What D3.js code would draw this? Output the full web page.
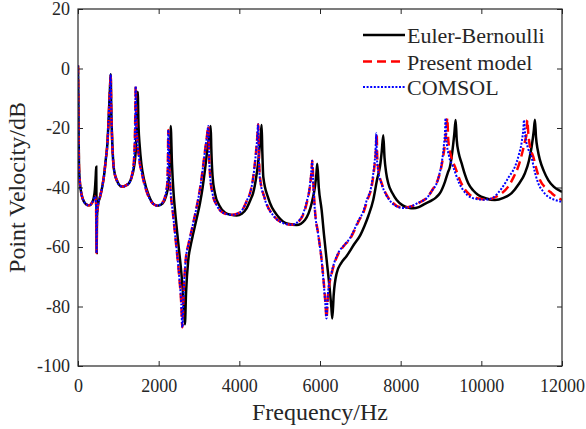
<!DOCTYPE html>
<html>
<head>
<meta charset="utf-8">
<script src="https://cdn.jsdelivr.net/npm/d3@7"></script>
<style>
html,body{margin:0;padding:0;background:#fff;overflow:hidden}
svg{display:block}
text{font-family:"Liberation Serif","Times New Roman",serif;fill:#262626}
</style>
</head>
<body>
<div id="chart"></div>
<script>
// tick values
const freqTicks=[0,2000,4000,6000,8000,10000,12000]
const dbTicks=[20,0,-20,-40,-60,-80,-100]
const seriesNames=["Euler-Bernoulli","Present model","COMSOL"]

// [frequency Hz, point velocity dB]
const eulerBernoulli=[
[0,1],[8,-8],[15,-22],[25,-33],[45,-38],[70,-41],[110,-43.5],[160,-45],[220,-45.8],[280,-46],[340,-45.3],[390,-43.5],[420,-40.5],[440,-36],[452,-33],[458,-45],[463,-62],[470,-50],[500,-45.5],[540,-43.5],[602,-39.7],[650,-35.5],[687,-30.8],[730,-25],[751,-19.6],[775,-12],[795,-6],[811,-1.9],
[825,-14],[850,-25],[892,-34],[975,-38],[1050,-39.5],[1124,-39.7],[1200,-39.2],[1264,-38.6],[1330,-36.5],[1390,-33],[1430,-28],[1455,-20],[1470,-13],[1480,-7.8],
[1500,-19],[1530,-26],[1570,-32],[1640,-37.5],[1750,-42.5],[1870,-45.5],[1980,-46.1],[2100,-45.3],[2180,-43],[2240,-39],[2270,-33],[2288,-26],[2298,-19.3],
[2330,-32],[2370,-42],[2405,-47.6],[2487,-58.8],[2571,-70],[2620,-79],[2650,-86],[2680,-75],[2734,-64.4],[2800,-59],[2858,-55.4],[2940,-50.5],[3024,-45.3],[3090,-40],[3148,-34.1],[3200,-28],[3250,-23],[3290,-19.3],
[3305,-27],[3335,-36],[3396,-42],[3500,-46],[3650,-48.5],[3800,-49.2],[3934,-49.4],[4060,-48.8],[4180,-47],[4280,-44],[4340,-42],[4420,-36.4],[4480,-30],[4520,-24],[4553,-19],
[4570,-28],[4594,-36.4],[4718,-43.6],[4966,-49.8],[5200,-52.2],[5421,-52.6],[5627,-50.9],[5793,-45.3],[5875,-39.7],[5910,-35.5],[5932,-32],
[5970,-40],[6041,-47.6],[6100,-56],[6165,-64.4],[6240,-74],[6280,-80],[6305,-84],[6340,-76],[6413,-68.8],[6520,-65.5],[6661,-63],[6850,-59],[7000,-56],[7100,-53],[7200,-49.5],[7320,-44.2],[7420,-37],[7487,-33],[7530,-28],[7569,-22.4],
[7600,-30],[7640,-35],[7692,-38.6],[7800,-42],[7901,-44.2],[8050,-46],[8200,-46.8],[8313,-47],[8450,-46.6],[8600,-45.5],[8750,-44.5],[8880,-43.3],[8974,-41.9],[9100,-38],[9170,-35],[9222,-33],[9280,-28],[9330,-22],[9363,-17.3],
[9390,-24],[9440,-28.5],[9512,-31.9],[9590,-35.5],[9675,-38.6],[9800,-41],[9923,-42.5],[10100,-43.6],[10337,-44.2],[10550,-43.5],[10751,-41.9],[10920,-39],[11081,-35.2],[11180,-31],[11247,-26.3],[11300,-21],[11329,-17.2],
[11355,-23],[11400,-27.5],[11454,-30.8],[11550,-34.5],[11659,-37.5],[11800,-39.8],[12000,-41.5]
]

const presentModel=[
[0,1],[8,-8],[15,-22],[25,-33],[45,-38],[70,-41],[110,-43.5],[160,-45],[220,-45.8],[280,-46],[340,-45.3],[390,-44],[425,-43],[445,-45],[456,-55],[462,-62],[470,-50],[500,-45.5],[540,-43.5],[602,-39.7],[650,-35.5],[687,-30.8],[730,-25],[751,-19.6],[775,-12],[795,-6],[810,-1.9],
[825,-14],[850,-25],[892,-34],[975,-38],[1050,-39.5],[1124,-39.7],[1200,-39.2],[1264,-38.6],[1347,-35.2],[1388,-30.8],[1408,-24],[1420,-16],[1430,-6],
[1445,-17],[1475,-25],[1512,-30],[1595,-36],[1719,-42],[1850,-45.3],[1966,-46.1],[2060,-45.5],[2132,-44.2],[2190,-41],[2214,-38.6],[2228,-32],[2239,-20.7],
[2265,-33],[2300,-42],[2345,-47.6],[2430,-58.8],[2510,-70],[2560,-79],[2587,-87],[2620,-75],[2670,-64.4],[2740,-59],[2800,-55.4],[2880,-50.5],[2960,-45.3],[3030,-40],[3090,-34.1],[3145,-28],[3195,-23],[3232,-19.3],
[3245,-27],[3275,-36],[3335,-42],[3440,-46],[3600,-48.5],[3810,-49.2],[3950,-48.8],[4098,-47],[4200,-44],[4264,-42],[4346,-36.4],[4400,-30],[4440,-24],[4470,-18.7],
[4485,-28],[4510,-36.4],[4630,-43.6],[4870,-49.8],[5100,-52],[5298,-52.5],[5500,-51],[5670,-45.3],[5750,-39.7],[5790,-34.5],[5808,-31],
[5840,-40],[5875,-47.6],[5960,-56],[6041,-64.4],[6100,-73],[6140,-80],[6160,-84],[6200,-76],[6289,-69],[6370,-65],[6453,-62.3],[6600,-59.5],[6743,-57.3],[6867,-54],[6970,-51],[7073,-48.5],[7180,-44],[7281,-39.7],[7350,-33],[7385,-28],[7405,-21.8],
[7420,-30],[7460,-35],[7530,-38.6],[7650,-42.5],[7816,-45.3],[7950,-46.5],[8107,-46.7],[8300,-46.2],[8500,-44.8],[8660,-43.3],[8800,-40.5],[8920,-37.5],[9030,-31.5],[9100,-25],[9135,-20],[9156,-16.7],
[9180,-24],[9250,-29.5],[9346,-33],[9500,-38.5],[9718,-42.5],[9900,-43.6],[10100,-44],[10174,-44],[10350,-43.2],[10500,-42],[10667,-39.7],[10800,-36.5],[10915,-33],[11020,-28],[11090,-24],[11123,-21.8],[11139,-17.3],
[11165,-22],[11210,-26.5],[11287,-29.6],[11370,-34],[11454,-37.5],[11600,-40.2],[11744,-41.9],[11880,-43.3],[12000,-44.2]
]

const comsol=[
[0,1],[8,-8],[15,-22],[25,-33],[45,-38],[70,-41],[110,-43.5],[160,-45],[220,-45.8],[280,-46],[340,-45.3],[390,-44],[425,-43],[445,-45],[456,-55],[462,-62],[470,-50],[500,-45.5],[540,-43.5],[602,-39.7],[650,-35.5],[687,-30.8],[730,-25],[751,-19.6],[775,-12],[795,-6],[810,-1.9],
[825,-14],[850,-25],[892,-34],[975,-38],[1050,-39.5],[1124,-39.7],[1200,-39.2],[1264,-38.6],[1347,-35.2],[1388,-30.8],[1408,-24],[1420,-16],[1430,-6],
[1445,-17],[1475,-25],[1512,-30],[1595,-36],[1719,-42],[1850,-45.3],[1966,-46.1],[2060,-45.5],[2132,-44.2],[2190,-41],[2214,-38.6],[2228,-32],[2239,-20.7],
[2265,-33],[2300,-42],[2345,-47.6],[2430,-58.8],[2510,-70],[2560,-79],[2587,-87],[2620,-75],[2670,-64.4],[2740,-59],[2800,-55.4],[2880,-50.5],[2960,-45.3],[3030,-40],[3090,-34.1],[3145,-28],[3195,-23],[3232,-19.3],
[3245,-27],[3275,-36],[3335,-42],[3440,-46],[3600,-48.5],[3810,-49.2],[3950,-48.8],[4098,-47],[4200,-44],[4264,-42],[4346,-36.4],[4400,-30],[4440,-24],[4465,-18.7],
[4480,-28],[4505,-36.4],[4625,-43.6],[4865,-49.8],[5095,-52],[5290,-52.5],[5490,-51],[5660,-45.3],[5745,-39.7],[5785,-34.5],[5805,-31],
[5837,-40],[5872,-47.6],[5957,-56],[6038,-64.4],[6097,-73],[6137,-80],[6160,-84],[6195,-76],[6280,-69],[6360,-65],[6440,-62.3],[6590,-59.5],[6730,-57.3],[6855,-54],[6955,-51],[7060,-48.5],[7165,-44],[7270,-39.7],[7340,-33],[7375,-28],[7395,-21.8],
[7410,-30],[7450,-35],[7520,-38.6],[7640,-42.5],[7790,-45.3],[7940,-46.6],[8080,-46.9],[8250,-46.4],[8450,-45],[8644,-43.6],[8780,-41],[8892,-38.6],[8960,-35.5],[9016,-31.9],[9070,-26],[9100,-21],[9112,-16.7],
[9135,-24],[9200,-29.5],[9300,-33],[9450,-38.5],[9650,-42.5],[9850,-43.8],[10050,-44.1],[10150,-44],[10300,-43.3],[10504,-40.3],[10680,-36.5],[10833,-33],[10930,-29],[11000,-24.8],[11040,-20.5],[11058,-17.3],
[11085,-22],[11150,-26.5],[11240,-29.6],[11330,-35],[11411,-38.6],[11530,-41.3],[11659,-43.1],[11830,-44.2],[12000,-44.8]
]

const margin={top:9,right:24,bottom:63,left:78},
  width=586,
  height=429,
  innerWidth=width-margin.left-margin.right,
  innerHeight=height-margin.top-margin.bottom

const svg=d3.select("#chart").append("svg").attr("width",width).attr("height",height)
const g=svg.append("g").attr("transform",`translate(${margin.left},${margin.top})`)

let x=d3.scaleLinear().domain([0,12000]).range([0,innerWidth])
let y=d3.scaleLinear().domain([-100,20]).range([innerHeight,0])

svg.append("defs").append("clipPath").attr("id","plotClip")
  .append("rect").attr("width",innerWidth).attr("height",innerHeight)

// axes, ticks pointing inward like MATLAB
const fmt=d=>String(d)
g.append("g").attr("transform",`translate(0,${innerHeight})`)
  .call(d3.axisBottom(x).tickValues(freqTicks).tickFormat(fmt).tickSizeInner(-5).tickSizeOuter(0).tickPadding(13))
g.append("g")
  .call(d3.axisLeft(y).tickValues(dbTicks).tickFormat(fmt).tickSizeInner(-5).tickSizeOuter(0).tickPadding(8))
// top and right: tick marks only
g.append("g").attr("class","mirror")
  .call(d3.axisTop(x).tickValues(freqTicks).tickSizeInner(-5).tickSizeOuter(0))
g.append("g").attr("class","mirror").attr("transform",`translate(${innerWidth},0)`)
  .call(d3.axisRight(y).tickValues(dbTicks).tickSizeInner(-5).tickSizeOuter(0))
g.selectAll(".mirror text").remove()
g.selectAll(".domain").remove()
g.selectAll(".tick line").attr("stroke","#262626")
g.selectAll(".tick text").style("font-size","18px").attr("fill","#262626")

const line=d3.line().x(d=>x(d[0])).y(d=>y(d[1])).curve(d3.curveMonotoneX)

const styles=[
  {data:eulerBernoulli,color:"#000000",width:2.5,dash:null},
  {data:presentModel,color:"#ff0000",width:2.5,dash:"9,5"},
  {data:comsol,color:"#0000ff",width:2,dash:"2,1.6"}
]

const plot=g.append("g").attr("clip-path","url(#plotClip)")
styles.forEach(s=>{
  plot.append("path").datum(s.data)
    .attr("d",line)
    .attr("fill","none")
    .attr("stroke",s.color)
    .attr("stroke-width",s.width)
    .attr("stroke-dasharray",s.dash)
})

// box
g.append("rect").attr("width",innerWidth).attr("height",innerHeight)
  .attr("fill","none").attr("stroke","#262626").attr("stroke-width",1.2)

// legend
const legend=svg.append("g")
const legendY=[43,69.5,95]
styles.forEach((s,i)=>{
  legend.append("line")
    .attr("x1",363).attr("x2",405)
    .attr("y1",legendY[i]-8).attr("y2",legendY[i]-8)
    .attr("stroke",s.color).attr("stroke-width",s.width)
    .attr("stroke-dasharray",s.dash)
  legend.append("text").attr("x",407).attr("y",legendY[i])
    .style("font-size","22px").attr("fill","#000")
    .text(seriesNames[i])
})

// axis titles
svg.append("text")
  .attr("x",margin.left+innerWidth/2).attr("y",420)
  .attr("text-anchor","middle").style("font-size","24px").attr("fill","#000")
  .text("Frequency/Hz")
svg.append("text")
  .attr("transform",`translate(25,${margin.top+innerHeight/2}) rotate(-90)`)
  .attr("text-anchor","middle").style("font-size","24px").attr("fill","#000")
  .text("Point Velocity/dB")
</script>
</body>
</html>
